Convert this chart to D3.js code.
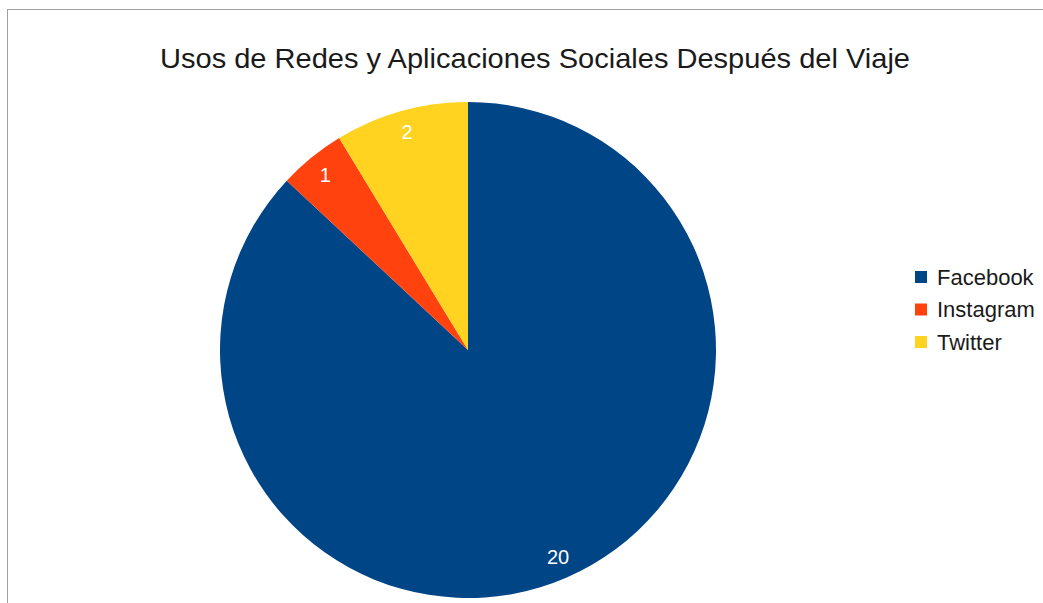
<!DOCTYPE html>
<html><head><meta charset="utf-8">
<script src="https://cdn.jsdelivr.net/npm/d3@7"></script>
<style>body{margin:0;background:#fff}svg{display:block}</style>
</head><body>
<script>
const categories = ["Facebook", "Instagram", "Twitter"];
const values = [20, 1, 2];
const colors = ["#004586", "#ff420e", "#ffd320"];
const title = "Usos de Redes y Aplicaciones Sociales Después del Viaje";

const W = 1043, H = 603;
const svg = d3.select("body").append("svg").attr("width", W).attr("height", H);
svg.append("rect").attr("x", 7.5).attr("y", 9.5).attr("width", W).attr("height", H)
  .attr("fill", "#fff").attr("stroke", "#a0a0a0").attr("stroke-width", 1);

svg.append("text").attr("x", 535).attr("y", 68).attr("text-anchor", "middle")
  .attr("font-family", "Liberation Sans, Arial, sans-serif").attr("font-size", 28.5)
  .attr("textLength", 750).attr("lengthAdjust", "spacingAndGlyphs")
  .attr("fill", "#1a1a1a").text(title);

const cx = 468, cy = 350, R = 248;
const data = categories.map((c, i) => ({c, v: values[i], col: colors[i]}));
const pie = d3.pie().value(d => d.v).sort(null);
const arc = d3.arc().innerRadius(0).outerRadius(R);
const labelArc = d3.arc().innerRadius(226).outerRadius(226);
const g = svg.append("g").attr("transform", `translate(${cx},${cy})`);
const arcs = pie(data);
g.selectAll("path").data(arcs).join("path").attr("d", arc).attr("fill", d => d.data.col);
g.selectAll("text").data(arcs).join("text")
  .attr("transform", d => `translate(${labelArc.centroid(d)})`)
  .attr("text-anchor", "middle").attr("dy", "0.35em")
  .attr("font-family", "Liberation Sans, Arial, sans-serif").attr("font-size", 20)
  .attr("fill", "#fff").text(d => d.data.v);

const lg = svg.append("g");
const ly = d3.scalePoint().domain(categories).range([277, 342]);
categories.forEach((c, i) => {
  lg.append("rect").attr("x", 915).attr("y", ly(c) - 6).attr("width", 12).attr("height", 12).attr("fill", colors[i]);
  lg.append("text").attr("x", 937).attr("y", ly(c)).attr("dy", "0.35em")
    .attr("font-family", "Liberation Sans, Arial, sans-serif").attr("font-size", 22)
    .attr("fill", "#1a1a1a").text(c);
});
</script>
</body></html>
